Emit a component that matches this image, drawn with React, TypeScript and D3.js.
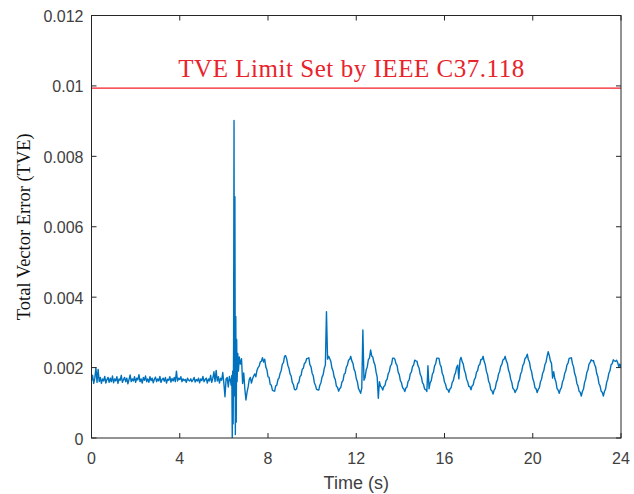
import React from "react";
import * as d3 from "d3";

// TVE samples in thousandths (×10⁻³). Steady state before the event, 0.05 s spacing from t = 0.
const baselineTVE = [
  1.62, 1.78, 1.55, 1.70, 2.00, 1.58, 1.95, 1.60, 1.72, 1.55, 1.68, 1.62, 1.75, 1.56, 1.66, 1.72, 1.58, 1.70, 1.60, 1.76,
  1.57, 1.68, 1.62, 1.74, 1.55, 1.68, 1.64, 1.78, 1.58, 1.66, 1.72, 1.60, 1.70, 1.54, 1.66, 1.79, 1.60, 1.68, 1.62, 1.74,
  1.58, 1.70, 1.65, 1.80, 1.60, 1.68, 1.56, 1.72, 1.64, 1.76, 1.60, 1.68, 1.58, 1.74, 1.63, 1.70, 1.57, 1.67, 1.73, 1.60,
  1.68, 1.62, 1.75, 1.58, 1.66, 1.70, 1.61, 1.72, 1.56, 1.67, 1.64, 1.74, 1.59, 1.69, 1.62, 1.72, 1.60, 1.90, 1.62, 1.70,
  1.66, 1.74, 1.60, 1.68, 1.63, 1.66, 1.58, 1.70, 1.64, 1.62, 1.68, 1.60, 1.65, 1.72, 1.59, 1.66, 1.62, 1.70, 1.57, 1.68,
  1.63, 1.75, 1.60, 1.66, 1.70, 1.56, 1.68, 1.62, 1.78, 1.58, 1.70, 1.88, 1.60, 1.92, 1.62, 1.74, 1.56, 1.70, 1.64, 1.86,
  1.55, 1.17, 1.68, 1.72, 1.45, 1.75, 1.62,
];
const baselineStart = 0;

// The fault transient, sampled irregularly (s).
const transientTime = [
  6.33, 6.36, 6.38, 6.40, 6.42, 6.44, 6.46, 6.48, 6.50, 6.52, 6.54, 6.56, 6.58, 6.60, 6.63, 6.66, 6.70, 6.75, 6.80, 6.85,
  6.90, 6.95, 7.00, 7.05,
];
const transientTVE = [
  1.50, 1.78, 0.00, 1.90, 0.40, 2.60, 9.02, 1.20, 6.85, 0.10, 3.45, 0.45, 2.80, 1.60, 2.40, 1.90, 2.30, 2.10, 2.25, 1.55,
  1.85, 1.40, 1.08, 1.30,
];

// Post-event oscillation, 0.05 s spacing from t = 7.10 s.
const oscillationTVE = [
  1.45, 1.66, 1.72, 1.56, 1.68, 1.76, 1.82, 1.74, 1.92, 2.00, 2.04, 2.16, 2.18, 2.28, 2.16, 2.24, 2.02, 1.94,
  1.74, 1.72, 1.52, 1.50, 1.36, 1.34, 1.33, 1.48, 1.50, 1.66, 1.70, 1.84, 1.92, 2.10, 2.14, 2.32, 2.34, 2.24, 2.06, 1.98,
  1.82, 1.76, 1.58, 1.52, 1.38, 1.37, 1.40, 1.55, 1.58, 1.75, 1.78, 1.95, 1.98, 2.12, 2.14, 2.25, 2.26, 2.28, 2.08, 2.02,
  1.84, 1.77, 1.57, 1.50, 1.38, 1.37, 1.36, 1.50, 1.57, 1.73, 1.80, 1.98, 2.07, 3.59, 2.24, 2.32, 2.25, 2.17, 1.98, 1.90,
  1.73, 1.66, 1.47, 1.44, 1.33, 1.40, 1.44, 1.59, 1.63, 1.81, 1.84, 2.01, 2.07, 2.21, 2.23, 2.32, 2.19, 2.12, 1.95, 1.88,
  1.69, 1.60, 1.41, 1.34, 1.27, 1.42, 3.07, 1.64, 1.72, 1.93, 2.02, 2.23, 2.27, 2.50, 2.33, 2.30, 2.15, 2.07, 1.87, 1.72,
  1.13, 1.60, 1.47, 1.44, 1.36, 1.46, 1.49, 1.63, 1.67, 1.83, 1.89, 2.05, 2.09, 2.27, 2.27, 2.24, 2.11, 2.06, 1.87, 1.80,
  1.63, 1.57, 1.43, 1.40, 1.32, 1.42, 1.45, 1.61, 1.65, 1.83, 1.87, 2.03, 2.07, 2.21, 2.19, 2.18, 2.05, 1.98, 1.81, 1.74,
  1.57, 1.52, 1.39, 1.38, 1.32, 2.05, 1.40, 1.57, 1.63, 1.81, 1.87, 2.05, 2.11, 2.27, 2.27, 2.26, 2.09, 2.02, 1.83, 1.76,
  1.59, 1.52, 1.39, 1.38, 1.30, 1.40, 1.43, 1.58, 1.63, 1.78, 1.85, 2.01, 2.07, 1.68, 2.21, 2.29, 2.17, 2.10, 1.93, 1.84,
  1.67, 1.60, 1.47, 1.46, 1.37, 1.48, 1.51, 1.66, 1.71, 1.87, 1.91, 2.06, 2.09, 2.23, 2.23, 2.32, 2.17, 2.08, 1.89, 1.80,
  1.61, 1.54, 1.37, 1.34, 1.25, 1.36, 1.41, 1.58, 1.65, 1.82, 1.89, 2.04, 2.09, 2.22, 2.24, 2.32, 2.19, 2.12, 1.93, 1.84,
  1.67, 1.58, 1.41, 1.38, 1.29, 1.36, 1.41, 1.58, 1.65, 1.82, 1.89, 2.06, 2.11, 2.26, 2.29, 2.38, 2.23, 2.16, 1.97, 1.88,
  1.69, 1.60, 1.43, 1.40, 1.29, 1.38, 1.43, 1.60, 1.67, 1.84, 1.91, 2.08, 2.15, 2.32, 2.45, 2.34, 2.19, 2.12, 1.70, 1.88,
  1.69, 1.60, 1.41, 1.36, 1.27, 1.38, 1.43, 1.60, 1.67, 1.84, 1.91, 2.08, 2.13, 2.26, 2.27, 2.28, 2.11, 2.02, 1.83, 1.74,
  1.55, 1.48, 1.33, 1.30, 1.19, 1.32, 1.39, 1.58, 1.67, 1.86, 1.93, 2.10, 2.15, 2.22, 2.19, 2.20, 2.09, 2.02, 1.83, 1.74,
  1.55, 1.48, 1.33, 1.30, 1.19, 1.32, 1.39, 1.58, 1.67, 1.84, 1.91, 2.08, 2.11, 2.22, 2.19, 2.18, 2.21, 2.14, 2.02, 2.10,
  2.02,
];
const oscillationStart = 7.1;
const sampleStep = 0.05;

const limitTVE = 0.00994;
const limitLabel = "TVE Limit Set by IEEE C37.118";

const xTicks = [0, 4, 8, 12, 16, 20, 24];
const yTicks = [0, 0.002, 0.004, 0.006, 0.008, 0.01, 0.012];
const xTitle = "Time (s)";
const yTitle = "Total Vector Error (TVE)";

const W = 634;
const H = 494;
const plot = { left: 91.5, right: 621, top: 15.5, bottom: 438 };

type Pt = [number, number];

export default function App() {
  const x = d3.scaleLinear().domain([0, 24]).range([plot.left, plot.right]);
  const y = d3.scaleLinear().domain([0, 0.012]).range([plot.bottom, plot.top]);

  const series: Pt[] = [
    ...baselineTVE.map((v, i): Pt => [baselineStart + i * sampleStep, v / 1000]),
    ...transientTVE.map((v, i): Pt => [transientTime[i], v / 1000]),
    ...oscillationTVE.map((v, i): Pt => [oscillationStart + i * sampleStep, v / 1000]),
  ];

  const line = d3
    .line<Pt>()
    .x((d) => x(d[0]))
    .y((d) => y(d[1]));

  const fmt = d3.format("~f");
  const axisColor = "#262626";
  const labelColor = "#404040";
  const tickLen = 5;

  return (
    <div style={{ position: "absolute", left: 0, top: 0 }}>
      <svg width={W} height={H} viewBox={`0 0 ${W} ${H}`} style={{ display: "block", background: "#fff" }}>
        <defs>
          <clipPath id="plot-clip">
            <rect x={plot.left} y={plot.top} width={plot.right - plot.left} height={plot.bottom - plot.top} />
          </clipPath>
        </defs>

        <g clipPath="url(#plot-clip)">
          <path d={line(series) ?? ""} fill="none" stroke="#0072BD" strokeWidth={1.4} strokeLinejoin="round" />
          <line
            x1={plot.left}
            x2={plot.right}
            y1={y(limitTVE)}
            y2={y(limitTVE)}
            stroke="#f21c24"
            strokeWidth={1.2}
          />
        </g>

        <text
          x={(x(0) + x(24)) / 2 - 5}
          y={77}
          textAnchor="middle"
          fontFamily="'Liberation Serif', 'Times New Roman', serif"
          fontSize={25}
          fill="#e8232b"
          textLength={346}
          lengthAdjust="spacing"
        >
          {limitLabel}
        </text>

        {/* axes box with mirrored inward ticks */}
        <rect
          x={plot.left}
          y={plot.top}
          width={plot.right - plot.left}
          height={plot.bottom - plot.top}
          fill="none"
          stroke={axisColor}
          strokeWidth={1}
        />
        {xTicks.map((t) => (
          <g key={`xt${t}`}>
            <line x1={x(t)} x2={x(t)} y1={plot.bottom} y2={plot.bottom - tickLen} stroke={axisColor} />
            <line x1={x(t)} x2={x(t)} y1={plot.top} y2={plot.top + tickLen} stroke={axisColor} />
            <text
              x={x(t)}
              y={plot.bottom + 26}
              textAnchor="middle"
              fontFamily="'Liberation Sans', Arial, sans-serif"
              fontSize={16}
              fill={labelColor}
            >
              {fmt(t)}
            </text>
          </g>
        ))}
        {yTicks.map((t) => (
          <g key={`yt${t}`}>
            <line x1={plot.left} x2={plot.left + tickLen} y1={y(t)} y2={y(t)} stroke={axisColor} />
            <line x1={plot.right} x2={plot.right - tickLen} y1={y(t)} y2={y(t)} stroke={axisColor} />
            <text
              x={plot.left - 8}
              y={y(t) + 6.5}
              textAnchor="end"
              fontFamily="'Liberation Sans', Arial, sans-serif"
              fontSize={16}
              fill={labelColor}
            >
              {fmt(t)}
            </text>
          </g>
        ))}

        <text
          x={(plot.left + plot.right) / 2}
          y={489}
          textAnchor="middle"
          fontFamily="'Liberation Sans', Arial, sans-serif"
          fontSize={18}
          fill={labelColor}
        >
          {xTitle}
        </text>
        <text
          transform={`translate(30, ${(plot.top + plot.bottom) / 2}) rotate(-90)`}
          textAnchor="middle"
          fontFamily="'Liberation Serif', 'Times New Roman', serif"
          fontSize={18.5}
          fill="#111"
        >
          {yTitle}
        </text>
      </svg>
    </div>
  );
}
